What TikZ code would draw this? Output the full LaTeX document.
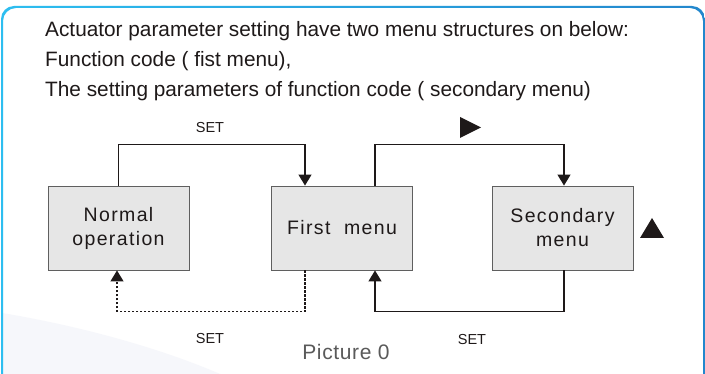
\documentclass[tikz,border=0pt]{standalone}
\usepackage{fontspec}
\setmainfont{Liberation Sans}
\newfontfamily\boxfont[LetterSpace=7]{Liberation Sans}
\newfontfamily\capfont[LetterSpace=3]{Liberation Sans}
\usetikzlibrary{arrows.meta}
\definecolor{frameL}{RGB}{45,190,240}
\definecolor{frameR}{RGB}{35,135,205}
\definecolor{boxfill}{RGB}{230,230,230}
\definecolor{boxline}{RGB}{95,95,95}
\definecolor{ink}{RGB}{30,25,25}
\definecolor{captiongray}{RGB}{90,90,90}
\definecolor{haze}{RGB}{246,247,251}
\tikzset{
  menubox/.style={draw=boxline, fill=boxfill, line width=0.9pt,
    minimum width=141pt, minimum height=84pt, inner sep=0pt, align=center,
    text=ink, font=\boxfont\fontsize{19.5}{24}\selectfont},
  conn/.style={draw=ink, line width=1.3pt,
    -{Triangle[width=13pt,length=11pt]}},
  dashconn/.style={conn, line width=1.1pt, dash pattern=on 2.5pt off 1.5pt},
  setlabel/.style={text=ink, font=\fontsize{14.5}{17}\selectfont, inner sep=0pt},
  headline/.style={anchor=base west, inner sep=0pt, text=ink,
    font=\fontsize{20.8}{24}\selectfont},
}
\begin{document}
\begin{tikzpicture}[x=1pt,y=-1pt]
\clip (0,0) rectangle (705,374);
\fill[white] (0,0) rectangle (705,374);
% faint background sweep
\fill[haze] (2,313) .. controls (80,326) and (160,348) .. (220,374) -- (2,374) -- cycle;
% frame
\shade[left color=frameL, right color=frameR, even odd rule]
  [rounded corners=13pt] (1,6) rectangle (705,400)
  (3,8) rectangle (703,398);
% heading text
\node[headline] (h1) at (45,37) {Actuator parameter setting have two menu structures on below:};
\node[headline] (h2) at (45,67) {Function code ( fist menu),};
\node[headline] (h3) at (45,97) {The setting parameters of function code ( secondary menu)};
% boxes
\node[menubox] (normal) at (118.5,228) {Normal\\operation};
\node[menubox] (first) at (342,228) {First\ \ menu};
\node[menubox] (second) at (562.5,228) {Secondary\\menu};
% connectors
\draw[conn] (normal.north) -- ++(0,-41) -| ([xshift=-37pt]first.north);
\draw[conn] ([xshift=33pt]first.north) -- ++(0,-41) -| ([xshift=1.5pt]second.north);
\draw[conn] ([xshift=1.5pt]second.south) -- ++(0,41) -| ([xshift=33pt]first.south);
\draw[dashconn] ([xshift=-37pt]first.south) -- ++(0,41) -| ([xshift=-1.5pt]normal.south);
% labels
\node[setlabel] (set1) at (210,128) {SET};
\node[setlabel] (set2) at (210,339) {SET};
\node[setlabel] (set3) at (472,340) {SET};
\node[text=captiongray, font=\capfont\fontsize{21}{25}\selectfont, inner sep=0pt] (cap) at (346,352) {Picture 0};
% key triangles
\fill[ink] (460,117) -- (481,127.5) -- (460,138) -- cycle;
\fill[ink] (640,238) -- (652,218) -- (664,238) -- cycle;
\end{tikzpicture}
\end{document}
